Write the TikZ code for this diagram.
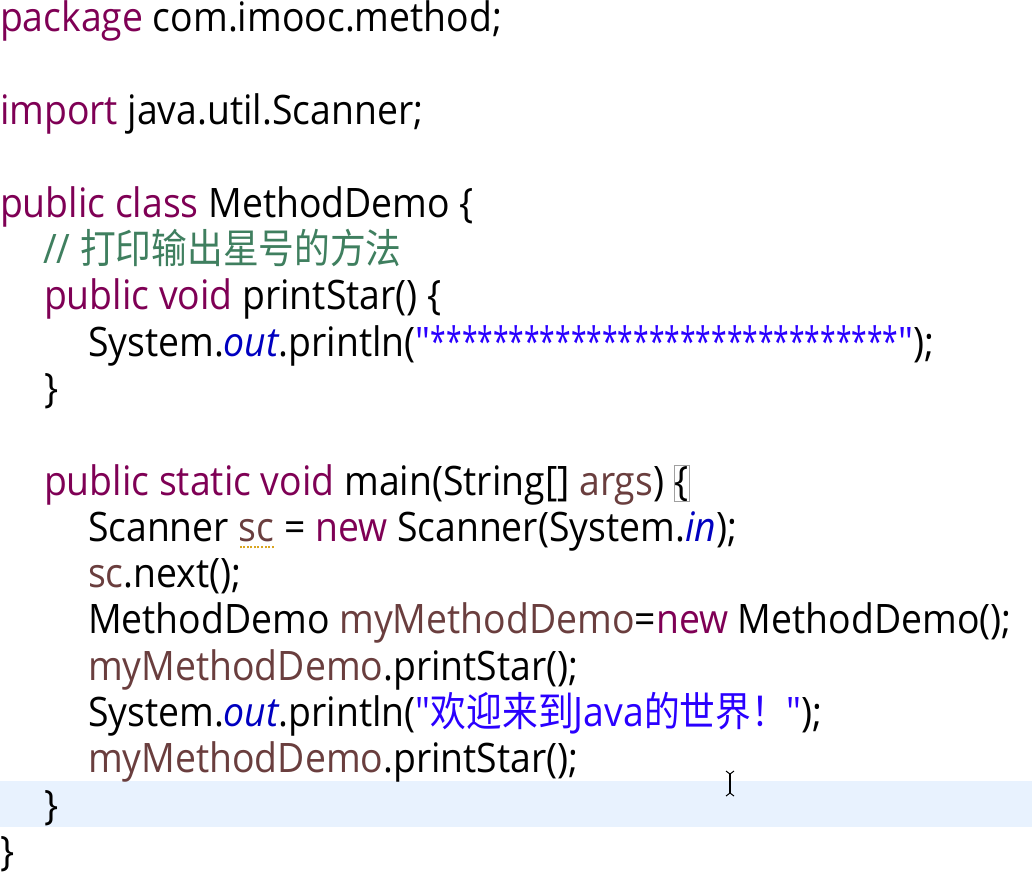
\documentclass[tikz,border=0pt]{standalone}
\usepackage{fontspec}
\setmainfont{Open Sans}[FakeStretch=0.92, Ligatures=TeXOff]
\newfontfamily\cjk{Noto Sans CJK SC}[FakeStretch=0.88]
\definecolor{kwcol}{HTML}{7F0055}
\definecolor{cmcol}{HTML}{3F7F5F}
\definecolor{strcol}{HTML}{2A00FF}
\definecolor{fldcol}{HTML}{0000C0}
\definecolor{varcol}{HTML}{6A3E3E}
\definecolor{warncol}{HTML}{D9A520}
\definecolor{hlcol}{HTML}{E8F2FE}
\definecolor{boxcol}{HTML}{A0A0A0}
\newcommand\kw[1]{\textcolor{kwcol}{#1}}
\newcommand\cm[1]{\textcolor{cmcol}{#1}}
\newcommand\str[1]{\textcolor{strcol}{#1}}
\newcommand\fld[1]{\textcolor{fldcol}{\itshape #1}}
\newcommand\vr[1]{\textcolor{varcol}{#1}}
\newsavebox\sqbox
\newcommand\warnul[1]{\sbox\sqbox{#1}\rlap{\raisebox{-7pt}{\textcolor{warncol}{\hbox to \wd\sqbox{\xleaders\hbox to 3.5pt{\hss\rule{2pt}{2pt}\hss}\hfill}}}}\usebox\sqbox}
\newcommand\bracebox{{\fboxsep=0pt\fboxrule=0.8pt\color{boxcol}\fbox{\color{black}\{}}}
\newcommand\stars{\scalebox{0.756}[1]{******************************}}
\tikzset{codeline/.style={anchor=base west, inner sep=0pt, outer sep=0pt, font=\fontsize{40.6}{46}\selectfont}}
\begin{document}
\begin{tikzpicture}[x=1pt,y=1pt]
\useasboundingbox (0,0) rectangle (1032,-883);
\fill[white] (0,0) rectangle (1032,-883);
\fill[hlcol] (0,-781) rectangle (1032,-827);
\node[codeline] (l1) at (0,-32) {\kw{package} com.imooc.method;};
\node[codeline] (l3) at (0,-124.6) {\kw{import} java.util.Scanner;};
\node[codeline] (l5) at (0,-217.2) {\kw{public} \kw{class} MethodDemo \{};
\node[codeline] (l6) at (43,-263.5) {\cm{// {\cjk 打印输出星号的方法}}};
\node[codeline] (l7) at (44,-309.8) {\kw{public} \kw{void} printStar() \{};
\node[codeline] (l8) at (88,-356.1) {System.\fld{out}.println(\str{"\stars"});};
\node[codeline] (l9) at (44,-402.4) {\}};
\node[codeline] (l11) at (44,-495) {\kw{public} \kw{static} \kw{void} main(String[] \vr{args}) \bracebox};
\node[codeline] (l12) at (88,-541.3) {Scanner \warnul{\vr{sc}} = \kw{new} Scanner(System.\fld{in});};
\node[codeline] (l13) at (88,-587.6) {\vr{sc}.next();};
\node[codeline] (l14) at (88,-633.9) {MethodDemo \vr{myMethodDemo}=\kw{new} MethodDemo();};
\node[codeline] (l15) at (88,-680.2) {\vr{myMethodDemo}.printStar();};
\node[codeline] (l16) at (88,-726.5) {System.\fld{out}.println(\str{"{\cjk 欢迎来到}Java{\cjk 的世界！}"});};
\node[codeline] (l17) at (88,-772.8) {\vr{myMethodDemo}.printStar();};
\node[codeline] (l18) at (44,-819.1) {\}};
\node[codeline] (l19) at (0,-865.4) {\}};
% I-beam cursor
\draw[line width=1.3pt, black] (730,-774) -- (730,-793);
\draw[line width=1pt, black] (726,-771) -- (730,-774) -- (734,-771);
\draw[line width=1pt, black] (726,-796) -- (730,-793) -- (734,-796);
\end{tikzpicture}
\end{document}
